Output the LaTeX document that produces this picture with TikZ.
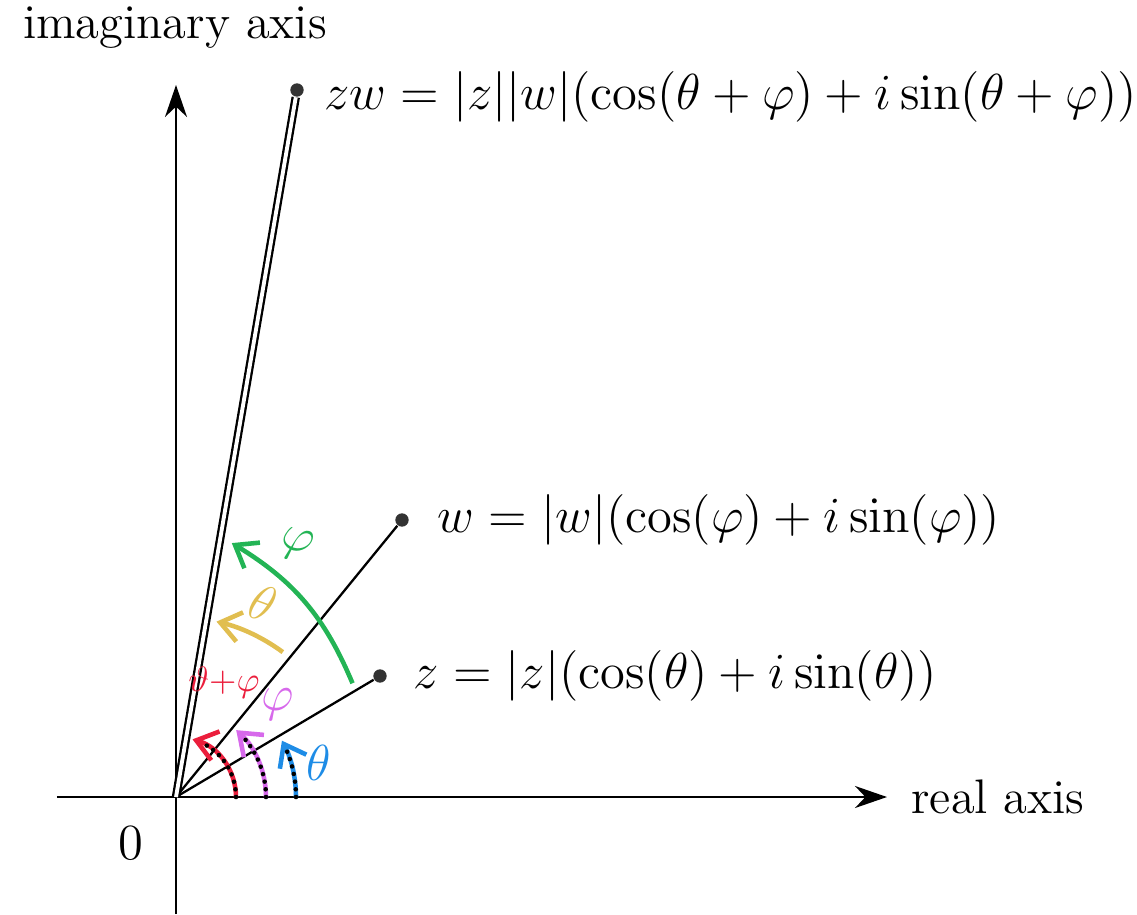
\documentclass[tikz,border=0pt]{standalone}
\usepackage{amsmath,amssymb}
\usetikzlibrary{arrows.meta,positioning,calc}

\definecolor{penblue}{RGB}{30,140,230}
\definecolor{penmagenta}{RGB}{215,105,235}
\definecolor{penred}{RGB}{235,30,60}
\definecolor{penyellow}{RGB}{225,190,80}
\definecolor{pengreen}{RGB}{35,180,85}

\begin{document}
\begin{tikzpicture}[
  font=\fontsize{13.8}{16.5}\selectfont,
  axis/.style={-{Stealth[length=3.2mm,width=2.2mm]}, line width=0.6pt},
  ray/.style={line width=0.65pt},
  pt/.style={circle, fill=black!80, inner sep=0pt, minimum size=3.8pt},
  pen/.style={line width=1.3pt, -{Straight Barb[length=2mm,width=3mm]}},
  dots/.style={line width=1.3pt, dotted, line cap=round, dash pattern=on 0pt off 2.2pt},
  hand/.style={font=\Large}
]
\useasboundingbox (-1.76,-1.17) rectangle (9.61,7.97);

% Axes
\coordinate (O) at (0,0);
\coordinate (xmin) at (-1.19,0);
\coordinate (xmax) at (7.11,0);
\coordinate (ymin) at (0,-1.17);
\coordinate (ymax) at (0,7.12);
\draw[axis] (xmin) -- (xmax);
\draw[axis] (ymin) -- (ymax);
\node[right=0.12cm of xmax] (xlabel) {real axis};
\node (ylabel) at (-0.01,7.69) {imaginary axis};
\node (zero) at (-0.45,-0.46) {$0$};

% Points
\node[pt] (Z) at (2.04,1.21) {};
\node[pt] (W) at (2.26,2.77) {};
\node[pt] (ZW) at (1.21,7.07) {};
\draw[ray] (O) -- (Z);
\draw[ray] (O) -- (W);
\draw[ray, double, double distance=1.1pt] (O) -- (ZW);

\node[right=0.14cm of Z] (zlabel) {$z=|z|(\cos(\theta)+i\sin(\theta))$};
\node[right=0.16cm of W] (wlabel) {$w=|w|(\cos(\varphi)+i\sin(\varphi))$};
\node[right=0.16cm of ZW, yshift=-0.07cm, inner xsep=1pt, font=\fontsize{13.5}{16}\selectfont] (zwlabel)
  {$zw=|z||w|(\cos(\theta+\varphi)+i\sin(\theta+\varphi))$};

% Hand-drawn angle marks
\draw[pen, penblue] (1.2,0) arc[start angle=0, end angle=28, radius=1.2];
\draw[dots] (1.2,0) arc[start angle=0, end angle=24, radius=1.2];
\node[hand, text=penblue] (thA) at (1.43,0.34) {$\theta$};

\draw[pen, penmagenta] (0.9,0) arc[start angle=0, end angle=48, radius=0.9];
\draw[dots] (0.9,0) arc[start angle=0, end angle=42, radius=0.9];
\node[hand, text=penmagenta] (phA) at (1.02,0.92) {$\varphi$};

\draw[pen, penred] (0.6,0) arc[start angle=0, end angle=74, radius=0.6];
\draw[dots] (0.6,0) arc[start angle=0, end angle=66, radius=0.6];
\node[font=\normalsize, text=penred, inner sep=0pt] (sumA) at (0.48,1.14) {$\vartheta{+}\varphi$};

\draw[pen, penyellow] (53.6:1.8) arc[start angle=53.6, end angle=77, radius=1.8];
\node[hand, text=penyellow, rotate=-20] (thB) at (0.87,1.94) {$\theta$};

\draw[pen, pengreen] (32.8:2.1) to[bend right=18] (77.6:2.6);
\node[hand, text=pengreen, rotate=-15] (phB) at (1.21,2.52) {$\varphi$};

\end{tikzpicture}
\end{document}
